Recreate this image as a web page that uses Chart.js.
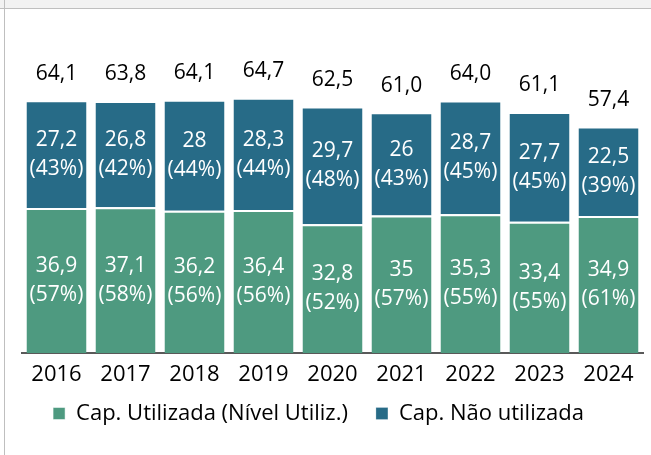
<!DOCTYPE html>
<html>
<head>
<meta charset="utf-8">
<script src="https://cdn.jsdelivr.net/npm/chart.js@4.4.1/dist/chart.umd.min.js"></script>
<style>
  html, body { margin: 0; padding: 0; background: #fff; }
  #wrap { position: absolute; left: 0; top: 0; width: 651px; height: 455px; }
  #topband { position: absolute; left: 0; top: 0; width: 651px; height: 8px; background: #f2f2f2; border-bottom: 1px solid #bfbfbf; z-index: 2; }
  #leftline { position: absolute; left: 4px; top: 0; width: 1px; height: 455px; background: #bfbfbf; z-index: 3; }
</style>
</head>
<body>
<div id="wrap"><canvas id="chart" width="651" height="455"></canvas></div>
<div id="topband"></div>
<div id="leftline"></div>
<script>
// data
const years = ["2016", "2017", "2018", "2019", "2020", "2021", "2022", "2023", "2024"];
const usedCap = [36.9, 37.1, 36.2, 36.4, 32.8, 35, 35.3, 33.4, 34.9];
const unusedCap = [27.2, 26.8, 28, 28.3, 29.7, 26, 28.7, 27.7, 22.5];
const usedPct = [57, 58, 56, 56, 52, 57, 55, 55, 61];
const unusedPct = [43, 42, 44, 44, 48, 43, 45, 45, 39];
const totals = [64.1, 63.8, 64.1, 64.7, 62.5, 61.0, 64.0, 61.1, 57.4];

const FONT = "'Open Sans', sans-serif";
const pcts = [usedPct, unusedPct];

// comma as decimal separator
const fmt = (v) => String(v).replace(".", ",");

// draws the value + percentage inside each segment and the totals on top
const barLabels = {
  id: "barLabels",
  afterDatasetsDraw(chart) {
    const ctx = chart.ctx;
    ctx.save();
    ctx.font = "21px " + FONT;
    ctx.textAlign = "center";
    ctx.textBaseline = "middle";
    ctx.fillStyle = "#ffffff";
    chart.data.datasets.forEach((ds, di) => {
      const meta = chart.getDatasetMeta(di);
      meta.data.forEach((bar, i) => {
        const p = bar.getProps(["x", "y", "base"], true);
        const cy = (p.y + p.base) / 2;
        ctx.fillText(fmt(ds.data[i]), p.x, cy - 14.5);
        ctx.fillText("(" + pcts[di][i] + "%)", p.x, cy + 14.5);
      });
    });
    // totals
    ctx.fillStyle = "#000000";
    const topMeta = chart.getDatasetMeta(chart.data.datasets.length - 1);
    topMeta.data.forEach((bar, i) => {
      ctx.fillText(totals[i].toFixed(1).replace(".", ","), bar.x, bar.y - 27.5);
    });
    ctx.restore();
  },
};

// pull the legend a bit up / left, closer to the year labels
const legendNudge = {
  id: "legendNudge",
  afterLayout(chart) {
    const lg = chart.legend;
    lg.top -= 18.5;
    lg.bottom -= 18.5;
    lg.left -= 14;
    lg.right -= 14;
  },
};

new Chart(document.getElementById("chart"), {
  type: "bar",
  data: {
    labels: years,
    datasets: [
      {
        label: "Cap. Utilizada (Nível Utiliz.)",
        data: usedCap,
        backgroundColor: "#4e9a80",
        borderColor: "#ffffff",
        borderWidth: { top: 2, left: 0, right: 0, bottom: 0 },
        borderSkipped: false,
      },
      {
        label: "Cap. Não utilizada",
        data: unusedCap,
        backgroundColor: "#276b87",
        borderColor: "#ffffff",
        borderWidth: { top: 1, left: 0, right: 0, bottom: 0 },
        borderSkipped: false,
      },
    ],
  },
  options: {
    responsive: false,
    animation: false,
    layout: { padding: { left: 22, right: 8, top: 38.7, bottom: 2 } },
    datasets: { bar: { barPercentage: 0.87, categoryPercentage: 1 } },
    scales: {
      x: {
        stacked: true,
        grid: { display: false, drawTicks: false },
        border: { display: true, color: "#595959", width: 2 },
        ticks: { color: "#000000", font: { family: FONT, size: 22 }, padding: 9 },
        afterFit: (scale) => { scale.height = 40; },
      },
      y: {
        stacked: true,
        display: false,
        min: 0,
        max: 80,
      },
    },
    plugins: {
      legend: {
        position: "bottom",
        labels: {
          color: "#000000",
          font: { family: FONT, size: 22 },
          boxWidth: 12,
          boxHeight: 12,
          padding: 28,
        },
      },
      tooltip: { enabled: false },
    },
  },
  plugins: [barLabels, legendNudge],
});
</script>
</body>
</html>
